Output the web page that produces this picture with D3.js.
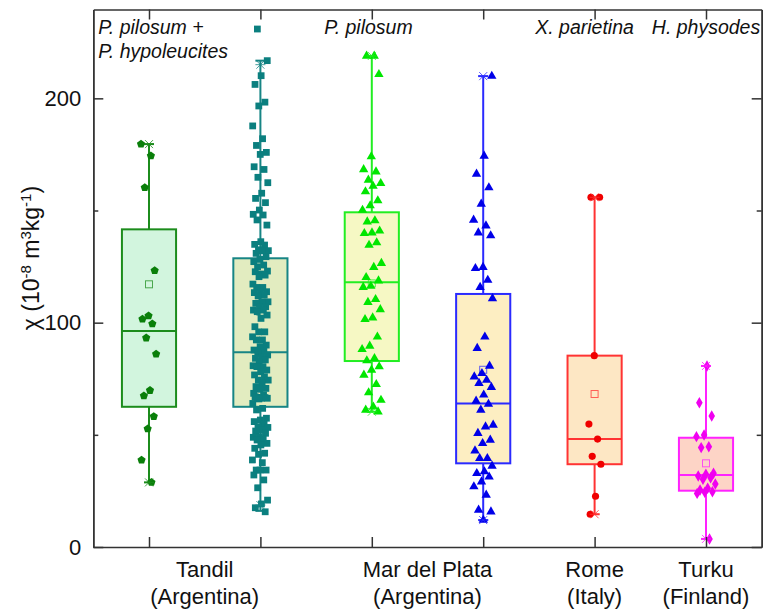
<!DOCTYPE html>
<html>
<head>
<meta charset="utf-8">
<script src="https://cdn.jsdelivr.net/npm/d3@7"></script>
<style>
  body { margin: 0; background: #fff; }
  svg { font-family: "Liberation Sans", Arial, sans-serif; }
</style>
</head>
<body>
<svg width="771" height="609"></svg>
<script>
// values (chi, 10^-8 m3/kg)
var tandilA = [179.6, 174.4, 160.2, 123.2, 103.1, 101.6, 99.5, 93.2, 86.0, 69.8, 67.4, 58.2, 52.7, 38.8, 28.8];
var tandilB = [230.9, 216.8, 210.1, 206.2, 198.3, 196.6, 187.7, 182.0, 179.0,
  175.9, 175.0, 169.5, 168.3, 164.8, 162.4, 157.7, 155.4, 153.5, 150.2, 148.3, 148.0, 145.8, 143.5,
  136.1, 134.9, 134.6, 132.5, 132.1, 132.1, 130.9, 129.4, 128.2, 127.2, 125.7, 124.9, 123.0, 121.7,
  122.7, 121.2, 120.5, 117.2, 115.7, 115.7, 113.8, 113.4, 113.4, 112.3, 111.9, 109.3, 109.3, 108.6,
  107.1, 107.1, 105.6, 105.6, 104.9, 103.4, 101.9, 98.2, 95.9, 95.9, 93.7, 92.3, 92.3, 90.0, 89.3,
  87.8, 87.4, 86.3, 85.6, 84.8, 84.1, 83.4, 82.6, 80.8, 80.4, 80.4, 78.9, 78.1, 76.7, 75.9, 74.4,
  74.4, 73.0, 71.5, 70.7, 70.3, 68.5, 67.8, 66.7, 66.3, 66.3, 67.0, 66.6, 66.0, 64.0, 61.8, 61.1,
  57.4, 56.6, 55.9, 54.7, 53.6, 53.3, 52.2, 51.7, 50.7, 49.2, 48.9, 48.0, 47.7, 46.2, 45.5, 44.0,
  41.8, 41.3, 38.8, 37.6, 34.3, 34.3, 34.3, 32.1, 29.9, 26.4, 20.9, 19.2, 17.5, 15.7];
var mdpA = [218.9, 218.9, 210.7, 174.0, 168.3, 167.3, 163.6, 162.1, 160.9, 158.4, 154.4, 152.2, 150.2,
  145.5, 145.0, 140.9, 140.1, 139.8, 135.7, 134.6, 126.5, 124.7, 120.2, 118.7, 116.3, 115.8, 110.4,
  109.1, 105.9, 102.2, 101.5, 93.7, 89.6, 88.1, 84.1, 83.1, 80.4, 78.9, 76.7, 72.5, 68.8, 65.5,
  62.5, 61.1, 60.3];
var mdpB = [209.9, 174.3, 166.3, 160.2, 152.9, 145.8, 143.2, 140.1, 138.8, 124.7, 124.2, 119.0, 115.8,
  110.8, 93.7, 88.6, 80.7, 77.4, 75.9, 74.4, 73.0, 71.2, 67.8, 65.1, 63.7, 61.1, 54.4, 53.6, 50.7,
  47.7, 46.2, 42.9, 39.5, 39.5, 36.1, 33.6, 32.8, 31.3, 29.1, 26.9, 23.2, 16.5, 15.7, 12.0];
var rome = [155.9, 155.9, 85.3, 54.8, 48.1, 40.4, 36.9, 22.6, 14.6];
var turku = [80.7, 64.3, 58.4, 49.9, 49.2, 44.7, 44.3, 32.9, 32.4, 31.6, 30.9, 30.2, 28.1, 26.2,
  25.4, 24.6, 24.4, 23.9, 3.6];

// box statistics as drawn
var q1      = [62.5, 62.5, 82.9, 37.3, 36.9, 25.1];
var medians = [96.3, 86.8, 118.0, 64.0, 48.1, 32.1];
var q3      = [141.6, 128.7, 149.2, 112.8, 85.3, 48.7];
var means   = [117.1, 104.9, 117.5, 79.0, 68.2, 37.3];
var whiskLo = [28.8, 16.1, 60.3, 12.0, 14.6, 3.6];
var whiskHi = [179.6, 216.8, 218.9, 209.9, 155.9, 80.7];
var pctLo   = [28.8, 18.7, 60.3, 12.0, 14.6, 3.6];
var pctHi   = [179.6, 215.0, 218.9, 209.9, 155.9, 80.7];

var cityLabels = [["Tandil", "(Argentina)"], ["Mar del Plata", "(Argentina)"], ["Rome", "(Italy)"], ["Turku", "(Finland)"]];
var cityPos = [1.5, 3.5, 5, 6];
var speciesLabels = [["P. pilosum +", "P. hypoleucites"], ["P. pilosum"], ["X. parietina"], ["H. physodes"]];
var speciesPos = [0.545, 2.97, 4.91, 6];

var series = [tandilA, tandilB, mdpA, mdpB, rome, turku];

var lineColors  = ["#1c8c1c", "#178585", "#22ee22", "#2a2aff", "#ff3333", "#ff22ff"];
var pointColors = ["#0a7f0a", "#0b7f7f", "#00e600", "#0000e8", "#f00000", "#f000f0"];
var fillColors  = ["#d2f5de", "#e2ecc0", "#f6f8c4", "#fdeec2", "#fde7c4", "#fdd4c6"];
var spreads     = [8, 8, 10, 10, 7, 10];

function draw() {
  var pentagon = {
    draw: function(ctx, size) {
      var r = Math.sqrt(size / 2.378);
      for (var k = 0; k < 5; k++) {
        var a = -Math.PI / 2 + k * 2 * Math.PI / 5;
        if (k === 0) ctx.moveTo(r * Math.cos(a), r * Math.sin(a));
        else ctx.lineTo(r * Math.cos(a), r * Math.sin(a));
      }
      ctx.closePath();
    }
  };
  var shapes = [pentagon, d3.symbolSquare, d3.symbolTriangle, d3.symbolTriangle, d3.symbolCircle, d3.symbolDiamond];
  var shapeSizes = [44, 46, 38, 38, 40, 38];

  var svg = d3.select("svg");
  var m = {left: 93.3, right: 761.7, top: 9.5, bottom: 547};

  var x = d3.scaleLinear().domain([0.5, 6.5]).range([m.left, m.right]);
  var y = d3.scaleLinear().domain([0, 239.6]).range([m.bottom, m.top]);
  var boxW = x(1.243) - x(1);

  var plot = svg.append("g");

  series.forEach(function(vals, i) {
    var cx = x(i + 1);
    var g = plot.append("g");
    var col = lineColors[i];

    // whiskers
    g.append("line").attr("x1", cx).attr("x2", cx).attr("y1", y(whiskHi[i])).attr("y2", y(q3[i]))
      .attr("stroke", col).attr("stroke-width", 2);
    g.append("line").attr("x1", cx).attr("x2", cx).attr("y1", y(q1[i])).attr("y2", y(whiskLo[i]))
      .attr("stroke", col).attr("stroke-width", 2);
    [whiskLo[i], whiskHi[i]].forEach(function(v) {
      g.append("line").attr("x1", cx - 5).attr("x2", cx + 5).attr("y1", y(v)).attr("y2", y(v))
        .attr("stroke", col).attr("stroke-width", 2);
    });

    // box
    g.append("rect")
      .attr("x", cx - boxW).attr("width", 2 * boxW)
      .attr("y", y(q3[i])).attr("height", y(q1[i]) - y(q3[i]))
      .attr("fill", fillColors[i]).attr("stroke", col).attr("stroke-width", 2);
    g.append("line").attr("x1", cx - boxW).attr("x2", cx + boxW)
      .attr("y1", y(medians[i])).attr("y2", y(medians[i]))
      .attr("stroke", col).attr("stroke-width", 2);

    // mean
    g.append("rect").attr("x", cx - 3.5).attr("y", y(means[i]) - 3.5)
      .attr("width", 7).attr("height", 7)
      .attr("fill", "none").attr("stroke", col).attr("stroke-opacity", 0.75).attr("stroke-width", 1);

    // points, spread sideways with a fixed low-discrepancy offset
    var sym = d3.symbol().type(shapes[i]).size(shapeSizes[i]);
    g.selectAll(".pt").data(vals).enter()
      .append("path")
        .attr("class", "pt")
        .attr("d", sym)
        .attr("fill", pointColors[i])
        .attr("transform", function(d, j) {
          var off = (((j * 0.618034 + i * 0.31) % 1) * 2 - 1) * spreads[i];
          return "translate(" + (cx + off) + "," + y(d) + ")";
        });

    // 1% / 99% crosses
    [pctLo[i], pctHi[i]].forEach(function(v) {
      var py = y(v);
      g.append("path")
        .attr("d", "M" + (cx - 4) + "," + (py - 4) + "L" + (cx + 4) + "," + (py + 4) +
                   "M" + (cx - 4) + "," + (py + 4) + "L" + (cx + 4) + "," + (py - 4) +
                   "M" + (cx - 5) + "," + py + "L" + (cx + 5) + "," + py)
        .attr("stroke", col).attr("stroke-width", 1).attr("fill", "none").attr("opacity", 0.8);
    });
  });

  // frame and ticks
  var axisCol = "#333";
  var yLeft = svg.append("g").attr("transform", "translate(" + m.left + ",0)")
    .call(d3.axisLeft(y).tickValues([0, 100, 200]).tickSize(-10).tickSizeOuter(0).tickPadding(12));
  svg.append("g").attr("transform", "translate(" + m.left + ",0)")
    .call(d3.axisLeft(y).tickValues([50, 150]).tickSize(-5).tickSizeOuter(0).tickFormat(""));
  svg.append("g").attr("transform", "translate(" + m.right + ",0)")
    .call(d3.axisRight(y).tickValues([0, 100, 200]).tickSize(-10).tickSizeOuter(0).tickFormat(""));
  svg.append("g").attr("transform", "translate(" + m.right + ",0)")
    .call(d3.axisRight(y).tickValues([50, 150]).tickSize(-5).tickSizeOuter(0).tickFormat(""));
  svg.append("g").attr("transform", "translate(0," + m.bottom + ")")
    .call(d3.axisBottom(x).tickValues([1, 2, 3, 4, 5, 6]).tickSize(-10).tickSizeOuter(0).tickFormat(""));
  svg.append("g").attr("transform", "translate(0," + m.top + ")")
    .call(d3.axisTop(x).tickValues([1, 2, 3, 4, 5, 6]).tickSize(-10).tickSizeOuter(0).tickFormat(""));

  svg.selectAll(".domain").attr("stroke", axisCol).attr("stroke-width", 1.5);
  svg.selectAll(".tick line").attr("stroke", axisCol).attr("stroke-width", 1.5);
  yLeft.selectAll("text").attr("font-size", 22).attr("fill", "#111")
    .attr("font-family", "Liberation Sans, Arial, sans-serif");

  // city labels
  cityLabels.forEach(function(lines, i) {
    var t = svg.append("text").attr("x", x(cityPos[i])).attr("text-anchor", "middle")
      .attr("font-size", 22).attr("fill", "#111");
    lines.forEach(function(s, k) {
      t.append("tspan").attr("x", x(cityPos[i])).attr("y", 577 + k * 27).text(s);
    });
  });

  // species labels
  speciesLabels.forEach(function(lines, i) {
    var anchor = i === 0 ? "start" : "middle";
    var t = svg.append("text").attr("text-anchor", anchor)
      .attr("font-size", 19.5).attr("font-style", "italic").attr("fill", "#111");
    lines.forEach(function(s, k) {
      t.append("tspan").attr("x", x(speciesPos[i])).attr("y", 34 + k * 24).text(s);
    });
  });

  // y axis title
  var yt = svg.append("text")
    .attr("transform", "translate(39,258) rotate(-90)")
    .attr("text-anchor", "middle").attr("font-size", 23).attr("fill", "#111");
  yt.append("tspan").text("\u03c7 (10");
  yt.append("tspan").attr("dy", -8).attr("font-size", 15).text("-8");
  yt.append("tspan").attr("dy", 8).text(" m");
  yt.append("tspan").attr("dy", -8).attr("font-size", 15).text("3");
  yt.append("tspan").attr("dy", 8).text("kg");
  yt.append("tspan").attr("dy", -8).attr("font-size", 15).text("-1");
  yt.append("tspan").attr("dy", 8).text(")");
}

draw();
</script>
</body>
</html>
